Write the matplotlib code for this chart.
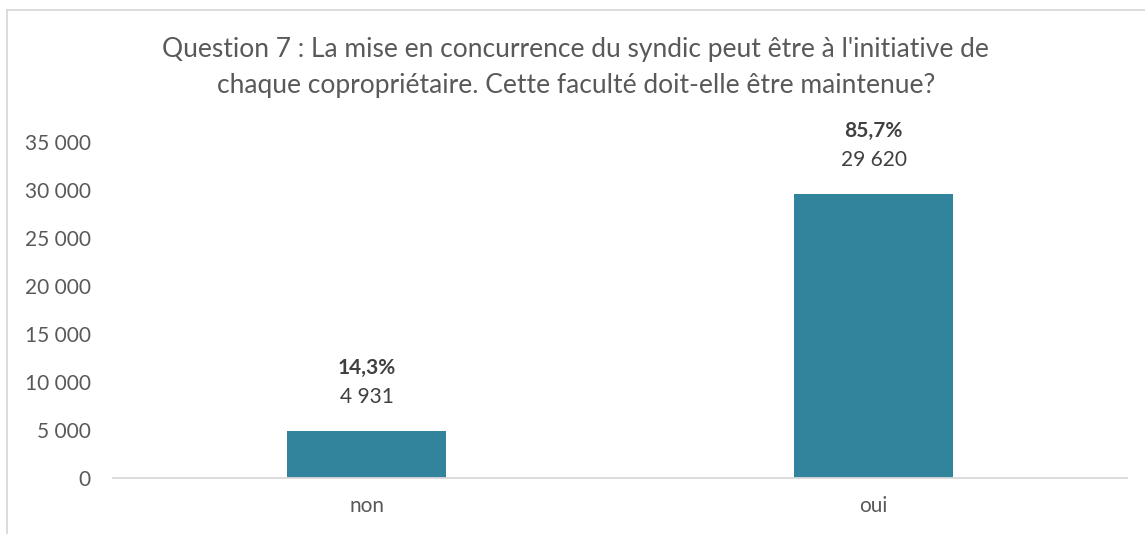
import matplotlib.pyplot as plt
from matplotlib.lines import Line2D

categories = ['non', 'oui']
values = [4931, 29620]
percents = ['14,3%', '85,7%']
yticks = [0, 5000, 10000, 15000, 20000, 25000, 30000, 35000]

titre = ("Question 7 : La mise en concurrence du syndic peut être à l'initiative de\n"
         "chaque copropriétaire. Cette faculté doit-elle être maintenue?")

plt.rcParams['font.family'] = ['Lato', 'DejaVu Sans']
gris = '#595959'

fig = plt.figure(figsize=[11.45, 5.34], dpi=100)
ax = fig.add_axes([0.0987, 0.1049, 0.8856, 0.6291])

x = range(len(categories))
ax.bar(x, values, width=0.314, color='#31849B')

ax.set_xlim(-0.5, 1.5)
ax.set_ylim(0, 35000)
ax.set_yticks(yticks)
ax.set_yticklabels([f'{v:,}'.replace(',', ' ') for v in yticks], fontsize=15, color=gris)
ax.set_xticks(list(x))
ax.set_xticklabels(categories, fontsize=15, color=gris)
ax.tick_params(length=0)
ax.tick_params(axis='x', pad=13)
ax.tick_params(axis='y', pad=16)

for s in ['top', 'right', 'left']:
    ax.spines[s].set_visible(False)
ax.spines['bottom'].set_color('#D9D9D9')
ax.spines['bottom'].set_linewidth(1.3)

for i, (v, p) in enumerate(zip(values, percents)):
    ax.annotate(f'{v:,}'.replace(',', ' '), (i, v), xytext=(0, 24.5), textcoords='offset points',
                ha='center', va='center', fontsize=15, color='#404040')
    ax.annotate(p, (i, v), xytext=(0, 45), textcoords='offset points',
                ha='center', va='center', fontsize=15, color='#404040', fontweight='bold')

fig.text(0.503, 0.874, titre, ha='center', va='center', fontsize=19, color=gris,
         linespacing=1.55)

# bordure du graphique (coupée à droite et en bas)
fig.add_artist(Line2D([7/1145, 7/1145], [0, 1 - 10/534], color='#D9D9D9', lw=1.3))
fig.add_artist(Line2D([7/1145, 1], [1 - 10/534, 1 - 10/534], color='#D9D9D9', lw=1.3))

plt.savefig('out.png', dpi=100)
